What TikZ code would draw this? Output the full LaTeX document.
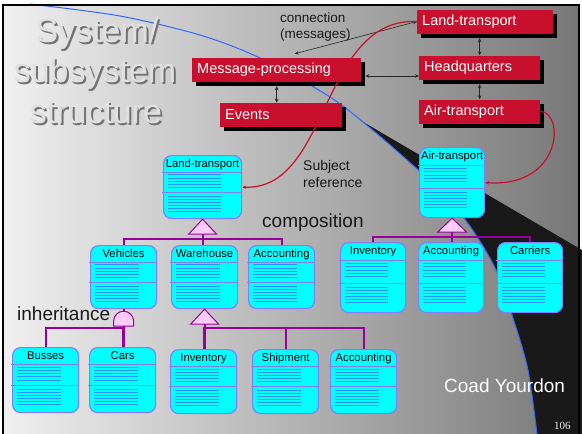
\documentclass[tikz,border=0pt]{standalone}
\usepackage{fontspec}
\setmainfont{Liberation Sans}
\newfontfamily\pagenumfont{Liberation Serif}
\usetikzlibrary{arrows.meta,shadows}

\definecolor{slidered}{RGB}{200,16,46}
\definecolor{umlcyan}{RGB}{0,255,255}
\definecolor{umledge}{RGB}{128,128,255}
\definecolor{umlstripe}{RGB}{40,150,255}
\definecolor{hierpurple}{RGB}{153,0,153}
\definecolor{hierpink}{RGB}{255,204,255}
\definecolor{swooshblue}{RGB}{51,102,255}

% class-&-object box: name, x, y (top left), width, height, label
\newcommand{\classbox}[6]{%
  \node (#1) [classshape, minimum width=#4, minimum height=#5, anchor=north west] at (#2,#3) {};
  \begin{scope}[shift={(#1.north west)}]
    \pgfmathsetmacro{\divA}{0.27*#5}
    \pgfmathsetmacro{\divB}{0.59*#5}
    \pgfmathsetmacro{\stripeend}{0.74*#4}
    \draw[classrule] (-1,\divA) -- (#4+1,\divA);
    \draw[classrule] (-1,\divB) -- (#4+1,\divB);
    \foreach \s in {1,...,5}
      \draw[classstripe] (5,\divA+3.2*\s-0.5) -- (\stripeend,\divA+3.2*\s-0.5);
    \foreach \s in {1,...,6}
      \draw[classstripe] (5,\divB+3*\s+1) -- (\stripeend,\divB+3*\s+1);
  \end{scope}
  \node (#1-name) [classname] at (#1.north) {#6};
}

\begin{document}
\begin{tikzpicture}[x=1pt, y=-1pt, >={Stealth[length=4pt,width=3.5pt]}]
  \tikzstyle{redbox} = [fill=slidered, text=white, font=\fontsize{14.5}{17}\selectfont,
    anchor=west, align=left, inner xsep=5pt, inner ysep=2pt, minimum height=24pt,
    general shadow={fill=black, shadow xshift=4pt, shadow yshift=-4pt}];
  \tikzstyle{classshape} = [draw=umledge, fill=umlcyan, line width=1.2pt, rounded corners=8pt, inner sep=0pt];
  \tikzstyle{classname} = [anchor=north, inner xsep=2pt, inner ysep=4.5pt, font=\fontsize{11.3}{13}\selectfont];
  \tikzstyle{classrule} = [draw=umledge, line width=1pt];
  \tikzstyle{classstripe} = [draw=umlstripe, line width=0.8pt];
  \tikzstyle{msgline} = [black!85, line width=0.6pt];
  \tikzstyle{refcurve} = [slidered, line width=1.2pt, ->];
  \tikzstyle{partline} = [hierpurple, line width=2pt];
  \tikzstyle{partmark} = [draw=hierpurple, fill=hierpink, line width=1pt];
  \tikzstyle{titletext} = [anchor=base, inner sep=0pt, font=\fontsize{34}{40}\selectfont];
  \tikzstyle{note} = [inner sep=0pt, text=black!90];

  \useasboundingbox (0,0) rectangle (582,434);
  % slide background
  \shade[left color=black!6, right color=black!53] (3,5) rectangle (579,434);
  \begin{scope}
    \clip plot[smooth] coordinates {(30,4) (120,16) (200,35) (260,58) (330,97) (375,132)
      (425,176) (448,198) (474,232) (496,270) (513,318) (528,370) (537,434)}
      -- (582,434) -- (582,0) -- cycle;
    \fill[black!90] (300,85) -- (582,250) -- (582,434) -- (300,434) -- cycle;
  \end{scope}
  \draw[swooshblue, line width=1pt] plot[smooth] coordinates {(30,4) (120,16) (200,35)
    (260,58) (330,97) (375,132) (425,176) (448,198) (474,232) (496,270) (513,318)
    (528,370) (537,434)};
  \draw[line width=2pt] (3,434) -- (3,5) -- (579,5) -- (579,434);

  % title
  \node (title1s) [titletext, text=black!55] at (99,44) {System/};
  \node (title1) [titletext, text=black!12] at (97,42) {System/};
  \node (title2s) [titletext, text=black!55] at (97,84.5) {subsystem};
  \node (title2) [titletext, text=black!12] at (95,82.5) {subsystem};
  \node (title3s) [titletext, text=black!55] at (98,125) {structure};
  \node (title3) [titletext, text=black!12] at (96,123) {structure};

  % subsystems
  \node (msg) [redbox, text width=159pt] at (192,70) {Message-processing};
  \node (events) [redbox, text width=112pt] at (220,115) {Events};
  \node (landr) [redbox, text width=126pt] at (417,21.5) {Land-transport};
  \node (hq) [redbox, text width=111pt] at (419,67.5) {Headquarters};
  \node (airr) [redbox, text width=111pt] at (419,111.5) {Air-transport};

  \draw[msgline, <->, shorten >=4.5pt] (hq.north) -- (hq.north |- landr.south);
  \draw[msgline, <->, shorten >=4.5pt] (airr.north) -- (airr.north |- hq.south);
  \draw[msgline, <->, shorten >=4pt] (events.north -| msg.south) -- (msg.south);
  \draw[msgline, <->, shorten <=4pt] ([yshift=-6pt]msg.east) -- ([yshift=-6pt]msg.east -| hq.west);
  \draw[msgline, <->] (landr.west) -- ([xshift=18pt,yshift=4pt]msg.north);

  \node (conn) [note, anchor=north west, align=left, font=\fontsize{13.5}{15.5}\selectfont]
    at (280,13) {connection\\(messages)};

  % classes
  \classbox{ltu}{163}{155}{78}{63}{Land-transport}
  \classbox{veh}{90}{245}{66}{63}{Vehicles}
  \classbox{wh}{171}{245}{66}{63}{Warehouse}
  \classbox{acc1}{248}{245}{66}{63}{Accounting}
  \classbox{bus}{12}{347}{66}{65}{Busses}
  \classbox{cars}{89}{347}{66}{65}{Cars}
  \classbox{inv1}{170}{349}{66}{64}{Inventory}
  \classbox{ship}{252}{349}{66}{64}{Shipment}
  \classbox{acc2}{330}{349}{66}{64}{Accounting}
  \classbox{atu}{419}{147}{65}{70}{Air-transport}
  \classbox{inv2}{340}{242}{65}{70}{Inventory}
  \classbox{acc3}{418}{242}{65}{70}{Accounting}
  \classbox{car}{497}{242}{65}{70}{Carriers}

  % subject references
  \draw[refcurve] (landr.west) .. controls +(-97,-4) and +(88,3.5) .. (ltu.east);
  \draw[refcurve] (airr.east) .. controls +(24,0) and +(78,5) .. (atu.east);
  \node (subj) [note, anchor=north west, align=left, font=\fontsize{14}{17}\selectfont]
    at (303,160) {Subject\\reference};

  % whole-part structures
  \coordinate (t1) at ([yshift=-15pt]ltu.south);
  \draw[partline] (veh.north) -- ++(0,-6) -| (acc1.north);
  \draw[partline] (t1) -- (t1 |- wh.north);
  \draw[partmark] (ltu.south) -- ++(-14,15) -- ++(28,0) -- cycle;

  \coordinate (t2) at ([yshift=-15pt]wh.south);
  \draw[partline] (inv1.north) -- ++(0,-21) -| (acc2.north);
  \draw[partline] (ship.north) -- ++(0,-21);
  \draw[partline] (t2) -- (t2 |- inv1.north);
  \draw[partmark] (wh.south) -- ++(-14,15) -- ++(28,0) -- cycle;

  \coordinate (t3) at ([yshift=-14pt]atu.south);
  \draw[partline] (inv2.north) -- ++(0,-5) -| (car.north);
  \draw[partline] (t3) -- (t3 |- acc3.north);
  \draw[partmark] (atu.south) -- ++(-14.5,14) -- ++(29,0) -- cycle;

  % gen-spec structure
  \coordinate (d1) at ([yshift=-17pt]veh.south);
  \draw[partline] (veh.south) -- (d1);
  \draw[partline] (bus.north) -- ++(0,-19) -| (cars.north);
  \draw[partline] (d1) -- (d1 |- cars.north);
  \draw[partmark] ([xshift=-10pt]d1) -- ++(0,-5) arc[start angle=180, end angle=0, radius=10pt]
    -- ([xshift=10pt]d1) -- cycle;

  \node (comp) [note, anchor=base west, font=\fontsize{19}{22}\selectfont] at (262,227) {composition};
  \node (inh) [note, anchor=base west, font=\fontsize{19}{22}\selectfont] at (17,320) {inheritance};
  \node (author) [anchor=base west, inner sep=0pt, text=white, font=\fontsize{19}{22}\selectfont]
    at (444,392) {Coad Yourdon};
  \node (pagenum) [anchor=base west, inner sep=0pt, text=black!8, font=\pagenumfont\fontsize{11}{13}\selectfont]
    at (554,429.5) {106};
\end{tikzpicture}
\end{document}
